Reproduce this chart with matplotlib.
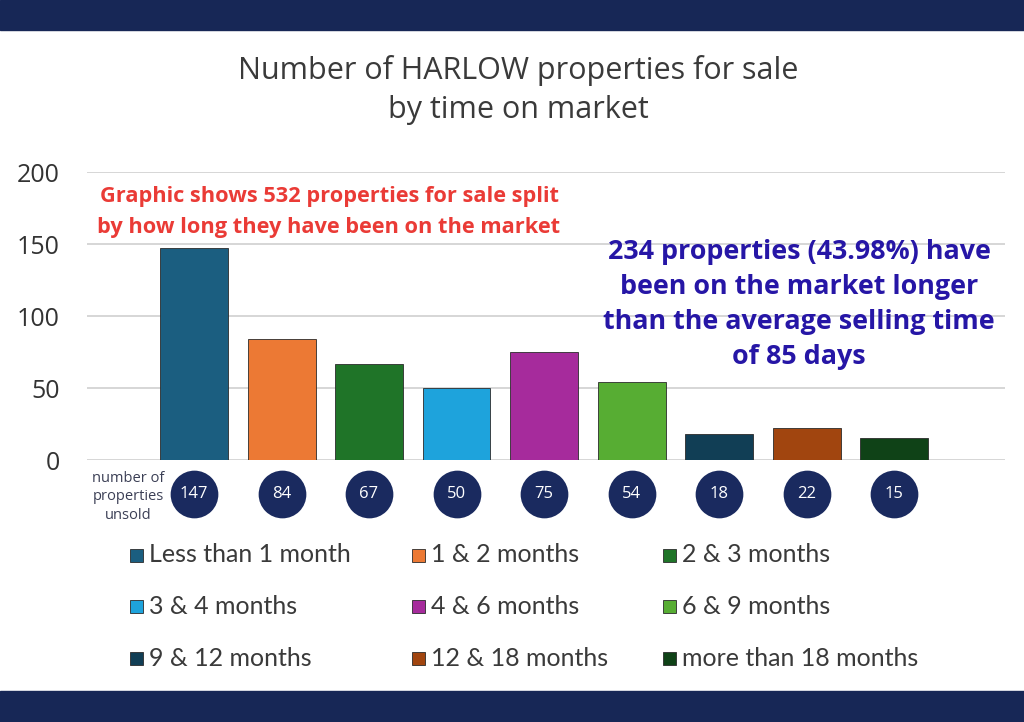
import matplotlib
matplotlib.use("Agg")
import matplotlib.pyplot as plt
from matplotlib.patches import Rectangle
import matplotlib.transforms as mtransforms

# ---- data ----
categories = ["Less than 1 month", "1 & 2 months", "2 & 3 months",
              "3 & 4 months", "4 & 6 months", "6 & 9 months",
              "9 & 12 months", "12 & 18 months", "more than 18 months"]
values = [147, 84, 67, 50, 75, 54, 18, 22, 15]
colors = ["#1b5e80", "#ec7934", "#1f7428", "#1ea3dc", "#a62b9c",
          "#57ad33", "#113e55", "#a1450f", "#0f4217"]
yticks = [0, 50, 100, 150, 200]
title = "Number of HARLOW properties for sale\nby time on market"
red_note = "Graphic shows 532 properties for sale split\nby how long they have been on the market"
blue_note = ("234 properties (43.98%) have\nbeen on the market longer\n"
             "than the average selling time\nof 85 days")
row_label = "number of\nproperties\nunsold"

W, H = 1024, 722
fig = plt.figure(figsize=(W / 100, H / 100), dpi=100)
fig.patch.set_facecolor("white")

def fx(px):
    return px / W

def fy(py):
    return 1 - py / H

navy = "#172756"
# top / bottom bands
fig.patches.append(Rectangle((0, fy(30)), 1, 30 / H, transform=fig.transFigure,
                             color=navy, zorder=0))
fig.patches.append(Rectangle((0, 0), 1, 31 / H, transform=fig.transFigure,
                             color=navy, zorder=0))

# axes
ax_left, ax_right, ax_top, ax_bot = 87, 1005, 172, 460
ax = fig.add_axes([fx(ax_left), fy(ax_bot), (ax_right - ax_left) / W,
                   (ax_bot - ax_top) / H])
ax.set_facecolor("none")

x = list(range(1, len(values) + 1))
step = 87.5
xl = 1 + (ax_left - 194) / step
xr = 1 + (ax_right - 194) / step
ax.set_xlim(xl, xr)
ax.set_ylim(0, 200)

ax.bar(x, values, width=68 / step, color=colors, edgecolor="#2b2b2b",
       linewidth=0.6, zorder=3)

ax.set_yticks(yticks)
ax.set_yticklabels([str(t) for t in yticks], fontsize=18, color="#333333",
                   family=["Open Sans", "DejaVu Sans"])
ax.tick_params(axis="y", length=0, pad=19.5)
ax.set_xticks([])
ax.grid(axis="y", color="#d3d3d3", linewidth=1.3, zorder=0)
for s in ax.spines.values():
    s.set_visible(False)

# circles with values under bars
trans = mtransforms.blended_transform_factory(ax.transData, ax.transAxes)
cy = (ax_bot - 494) / (ax_bot - ax_top)
ax.scatter(x, [cy] * len(x), s=1180, color="#1a2a5f", transform=trans,
           clip_on=False, zorder=4, linewidths=0)
for xi, v in zip(x, values):
    ax.text(xi, cy, str(v), transform=trans, ha="center", va="center",
            color="white", fontsize=12, family=["Open Sans", "DejaVu Sans"],
            zorder=5)
ax.text(1 + (128 - 194) / step, (ax_bot - 497) / (ax_bot - ax_top), row_label,
        transform=trans, ha="center", va="center", fontsize=10.5,
        color="#3b3f55", linespacing=1.36, family=["Open Sans", "DejaVu Sans"])

# title
fig.text(fx(518), fy(90), title, ha="center", va="center", fontsize=22,
         color="#3a3a3a", linespacing=1.42, family=["Open Sans", "DejaVu Sans"])

# notes
fig.text(fx(329), fy(212), red_note, ha="center", va="center", fontsize=15.7,
         fontweight="bold", color="#ea3b36", linespacing=1.58,
         family=["Open Sans", "DejaVu Sans"])
fig.text(fx(799), fy(304.5), blue_note, ha="center", va="center", fontsize=19.4,
         fontweight="bold", color="#2616a6", linespacing=1.45,
         family=["Open Sans", "DejaVu Sans"])

# legend (manual, 3 columns x 3 rows)
col_sq = [130, 412, 663]
row_y = [555, 606, 658]
sq = 13
for i, (lab, c) in enumerate(zip(categories, colors)):
    r, k = divmod(i, 3)
    xs, yc = col_sq[k], row_y[r]
    fig.patches.append(Rectangle((fx(xs), fy(yc + sq / 2)), sq / W, sq / H,
                                 transform=fig.transFigure, facecolor=c,
                                 edgecolor="#2b2b2b", linewidth=0.6))
    fig.text(fx(xs + sq + 6), fy(yc), lab, ha="left", va="center",
             fontsize=18, color="#3a3a3a", family=["Lato", "DejaVu Sans"])

fig.savefig("out.png", dpi=100, facecolor="white")
